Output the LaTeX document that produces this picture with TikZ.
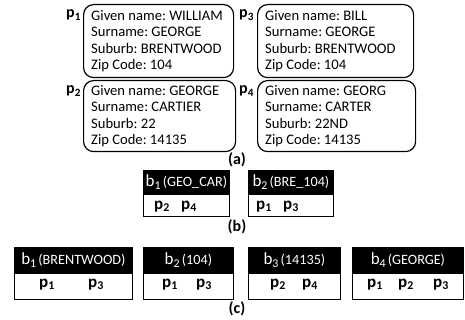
\documentclass[tikz,border=0pt]{standalone}
\usepackage{fontspec}
\setmainfont{Carlito}
\frenchspacing
\newcommand{\pp}[1]{\textbf{p}\textsubscript{\textbf{#1}}}
\newcommand{\hb}[2]{{\fontsize{17}{17}\selectfont b\textsubscript{#1}}\,{\fontsize{14.2}{15}\selectfont(#2)}}
\begin{document}
\begin{tikzpicture}[x=1pt,y=-1pt,
  rec/.style={draw, rounded corners=10pt, line width=1.2pt, anchor=north west, inner sep=0pt},
  txt/.style={anchor=west, inner sep=0pt, align=left, font=\fontsize{14.6}{16.4}\selectfont},
  plab/.style={anchor=base west, inner sep=0pt, font=\fontsize{16}{16}\selectfont},
  hdr/.style={fill=black, draw=black, text=white, anchor=north west, inner sep=0pt, line width=0.8pt},
  rowbox/.style={draw=black, fill=white, anchor=north west, inner sep=0pt, line width=0.8pt},
  pt/.style={anchor=base, inner sep=0pt, font=\fontsize{17}{17}\selectfont},
  capt/.style={inner sep=0pt, font=\bfseries\fontsize{16}{16}\selectfont}]
\useasboundingbox (0,0) rectangle (465,320);

% (a)
\node[rec, minimum width=150pt, minimum height=73pt] (P1) at (83,4) {};
\node[txt] (T1) at ([xshift=8pt]P1.west)
  {Given name: WILLIAM\\Surname: GEORGE\\Suburb: BRENTWOOD\\Zip Code: 104};
\node[rec, minimum width=156pt, minimum height=73pt] (P3) at (257,4) {};
\node[txt] (T3) at ([xshift=8pt]P3.west)
  {Given name: BILL\\Surname: GEORGE\\Suburb: BRENTWOOD\\Zip Code: 104};
\node[rec, minimum width=152pt, minimum height=71pt] (P2) at (83,80) {};
\node[txt] (T2) at ([xshift=8pt]P2.west)
  {Given name: GEORGE\\Surname: CARTIER\\Suburb: 22\\Zip Code: 14135};
\node[rec, minimum width=158pt, minimum height=71pt] (P4) at (257,80) {};
\node[txt] (T4) at ([xshift=8pt]P4.west)
  {Given name: GEORG\\Surname: CARTER\\Suburb: 22ND\\Zip Code: 14135};
\node[plab] (L1) at (66,18) {\pp{1}};
\node[plab] (L3) at (239,18) {\pp{3}};
\node[plab] (L2) at (66,94) {\pp{2}};
\node[plab] (L4) at (239,94) {\pp{4}};
\node[capt] (CA) at (237,160) {(a)};

% (b)
\node[hdr, minimum width=86pt, minimum height=23pt] (B1h) at (143,170) {\hb{1}{GEO\_CAR}};
\node[rowbox, minimum width=86pt, minimum height=22pt] (B1r) at (B1h.south west) {};
\node[pt] (B1a) at (162,209) {\pp{2}};
\node[pt] (B1b) at (189,209) {\pp{4}};
\node[hdr, minimum width=85pt, minimum height=23pt] (B2h) at (248,170) {\hb{2}{BRE\_104}};
\node[rowbox, minimum width=85pt, minimum height=22pt] (B2r) at (B2h.south west) {};
\node[pt] (B2a) at (264,209) {\pp{1}};
\node[pt] (B2b) at (291,209) {\pp{3}};
\node[capt] (CB) at (237,227) {(b)};

% (c)
\node[hdr, minimum width=118pt, minimum height=25pt] (C1h) at (14,247) {\hb{1}{BRENTWOOD}};
\node[rowbox, minimum width=118pt, minimum height=26pt] (C1r) at (C1h.south west) {};
\node[pt] (C1a) at (47,287) {\pp{1}};
\node[pt] (C1b) at (96,287) {\pp{3}};
\node[hdr, minimum width=90pt, minimum height=25pt] (C2h) at (143,247) {\hb{2}{104}};
\node[rowbox, minimum width=90pt, minimum height=26pt] (C2r) at (C2h.south west) {};
\node[pt] (C2a) at (170,287) {\pp{1}};
\node[pt] (C2b) at (204,287) {\pp{3}};
\node[hdr, minimum width=92pt, minimum height=25pt] (C3h) at (248,247) {\hb{3}{14135}};
\node[rowbox, minimum width=92pt, minimum height=26pt] (C3r) at (C3h.south west) {};
\node[pt] (C3a) at (278,287) {\pp{2}};
\node[pt] (C3b) at (310,287) {\pp{4}};
\node[hdr, minimum width=111pt, minimum height=25pt] (C4h) at (352,247) {\hb{4}{GEORGE}};
\node[rowbox, minimum width=111pt, minimum height=26pt] (C4r) at (C4h.south west) {};
\node[pt] (C4a) at (375,287) {\pp{1}};
\node[pt] (C4b) at (406,287) {\pp{2}};
\node[pt] (C4c) at (441,287) {\pp{3}};
\node[capt] (CC) at (237,309) {(c)};
\end{tikzpicture}
\end{document}
